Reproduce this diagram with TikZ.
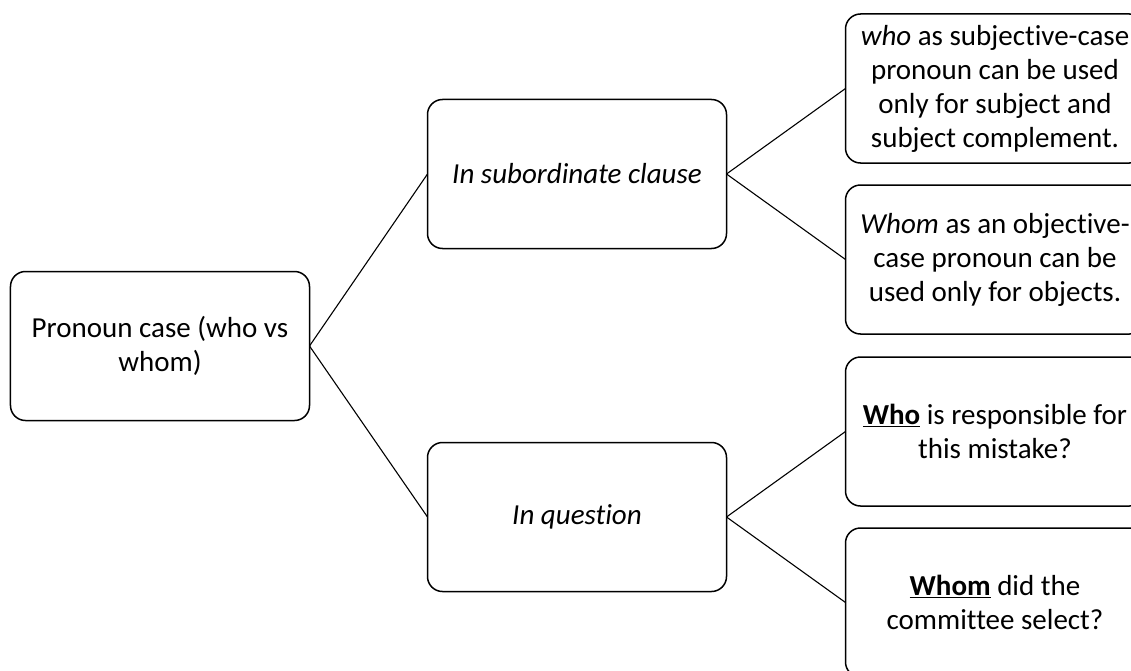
\documentclass[tikz,border=0pt]{standalone}
\usepackage{fontspec}
\setmainfont{Carlito}[Ligatures=NoCommon]
\usetikzlibrary{positioning}

\begin{document}
\begin{tikzpicture}[x=1pt, y=1pt, node distance=22pt,
        box/.style={draw, line width=1.5pt, rounded corners=15pt,
            minimum width=299pt, minimum height=149pt, inner sep=3pt,
            outer sep=0pt, align=center, font=\fontsize{29}{34}\selectfont},
        link/.style={line width=1.1pt}]
    \clip (-160,346) rectangle (971,-324);
    \node[box] (root) {Pronoun case (who vs\\whom)};
    \node[box, above right=23pt and 118pt of root] (sub) {\textit{In subordinate clause}};
    \node[box, below right=22pt and 118pt of root] (quest) {\textit{In question}};

    \node[box, right=119pt of sub, yshift=85.5pt] (subj) {\textit{who} as subjective-case\\pronoun can be used\\only for subject and\\subject complement.};
    \node[box, below=of subj] (obj) {\textit{Whom} as an objective-\\case pronoun can be\\used only for objects.};
    \node[box, right=119pt of quest, yshift=85.5pt] (who) {\underline{\textbf{Who}} is responsible for\\this mistake?};
    \node[box, below=of who] (whom) {\underline{\textbf{Whom}} did the\\committee select?};

    \draw[link] (root.east) -- (sub.west);
    \draw[link] (root.east) -- (quest.west);
    \draw[link] (sub.east) -- (subj.west);
    \draw[link] (sub.east) -- (obj.west);
    \draw[link] (quest.east) -- (who.west);
    \draw[link] (quest.east) -- (whom.west);
\end{tikzpicture}
\end{document}
